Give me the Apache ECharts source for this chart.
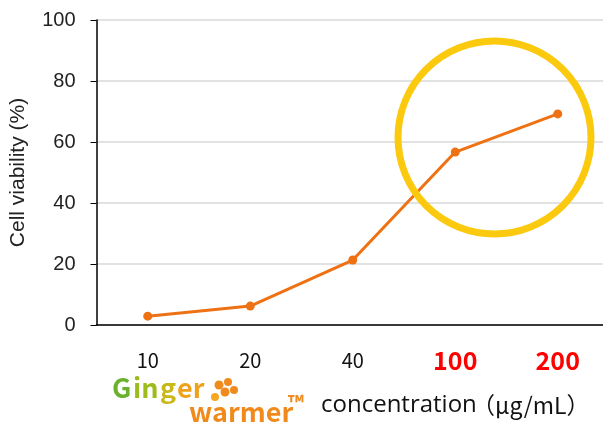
<!DOCTYPE html>
<html><head><meta charset="utf-8">
<script src="https://cdn.jsdelivr.net/npm/echarts@6/dist/echarts.min.js"></script>
<style>html,body{margin:0;padding:0;background:#fff}#c{width:603px;height:422px}</style>
</head><body><div id="c"></div>
<script>
const categories = ['10', '20', '40', '100', '200'];
const highlighted = ['100', '200'];
const viability = [2.9, 6.2, 21.3, 56.7, 69.2];
const yTicks = [0, 20, 40, 60, 80, 100];

const chart = echarts.init(document.getElementById('c'));
chart.setOption({
  animation: false,
  backgroundColor: '#fff',
  grid: { left: 96.5, right: -6, top: 20, bottom: 97, containLabel: false, outerBoundsMode: 'none' },
  xAxis: {
    type: 'category', data: categories, boundaryGap: true,
    axisLine: { lineStyle: { color: '#000', width: 1.5 } },
    axisTick: { show: false },
    axisLabel: {
      margin: 22,
      formatter: v => highlighted.includes(v) ? '{r|' + v + '}' : '{n|' + v + '}',
      rich: {
        n: { fontFamily: 'Noto Sans CJK JP', fontSize: 20, color: '#111', lineHeight: 26, verticalAlign: 'middle' },
        r: { fontFamily: 'Noto Sans CJK JP', fontSize: 25, fontWeight: 'bold', color: '#ff0000', lineHeight: 26, verticalAlign: 'middle' }
      }
    }
  },
  yAxis: {
    type: 'value', min: 0, max: 100, interval: 20,
    name: 'Cell viability (%)', nameLocation: 'middle', nameGap: 68,
    nameTextStyle: { fontFamily: 'Liberation Sans', fontSize: 21, color: '#222' },
    axisLine: { show: true, lineStyle: { color: '#000', width: 1.5 } },
    axisTick: { show: true, length: 6, lineStyle: { color: '#000' } },
    axisLabel: { margin: 21, fontFamily: 'Liberation Sans', fontSize: 20, color: '#222',
      formatter: v => yTicks.includes(v) ? String(v) : '' },
    splitLine: { lineStyle: { color: '#d9d9d9', width: 1.5 } }
  },
  series: [{
    type: 'line', data: viability,
    symbol: 'circle', symbolSize: 9,
    lineStyle: { color: '#ee7114', width: 3 },
    itemStyle: { color: '#ee7114' }
  }],
  graphic: [
    { type: 'circle', shape: { cx: 494.5, cy: 137.5, r: 96.5 },
      style: { fill: 'none', stroke: '#fbc90e', lineWidth: 7 }, z: 10 },
    { type: 'text', x: 112, y: 388, style: { text: 'G', fill: '#6ab22e', font: 'bold 27px "Noto Sans CJK JP"', verticalAlign: 'middle' } },
    { type: 'text', x: 133, y: 388, style: { text: 'in', fill: '#9cbc1c', font: 'bold 27px "Noto Sans CJK JP"', verticalAlign: 'middle' } },
    { type: 'text', x: 160, y: 388, style: { text: 'g', fill: '#c8b818', font: 'bold 27px "Noto Sans CJK JP"', verticalAlign: 'middle' } },
    { type: 'text', x: 177, y: 388, style: { text: 'er', fill: '#eea21a', font: 'bold 27px "Noto Sans CJK JP"', verticalAlign: 'middle' } },
    { type: 'circle', shape: { cx: 219, cy: 385, r: 4.5 }, style: { fill: '#f08a1c' } },
    { type: 'circle', shape: { cx: 228, cy: 382, r: 4 }, style: { fill: '#f08a1c' } },
    { type: 'circle', shape: { cx: 234, cy: 390, r: 4 }, style: { fill: '#f08a1c' } },
    { type: 'circle', shape: { cx: 225, cy: 392, r: 4.5 }, style: { fill: '#f08a1c' } },
    { type: 'circle', shape: { cx: 215, cy: 397, r: 4 }, style: { fill: '#f5a623' } },
    { type: 'text', x: 189, y: 412, style: { text: 'warmer', fill: '#f08a1c', font: 'bold 27px "Noto Sans CJK JP"', verticalAlign: 'middle' } },
    { type: 'text', x: 288, y: 403, style: { text: '™', fill: '#f08a1c', font: 'bold 21px "Noto Sans CJK JP"', verticalAlign: 'middle' } },
    { type: 'text', x: 321, y: 405, style: { text: 'concentration', fill: '#111', font: '24px "Open Sans"', verticalAlign: 'middle' } },
    { type: 'text', x: 472, y: 405, style: { text: '（μg/mL）', fill: '#111', font: '23px "Noto Sans CJK JP"', verticalAlign: 'middle' } }
  ]
});
</script></body></html>
